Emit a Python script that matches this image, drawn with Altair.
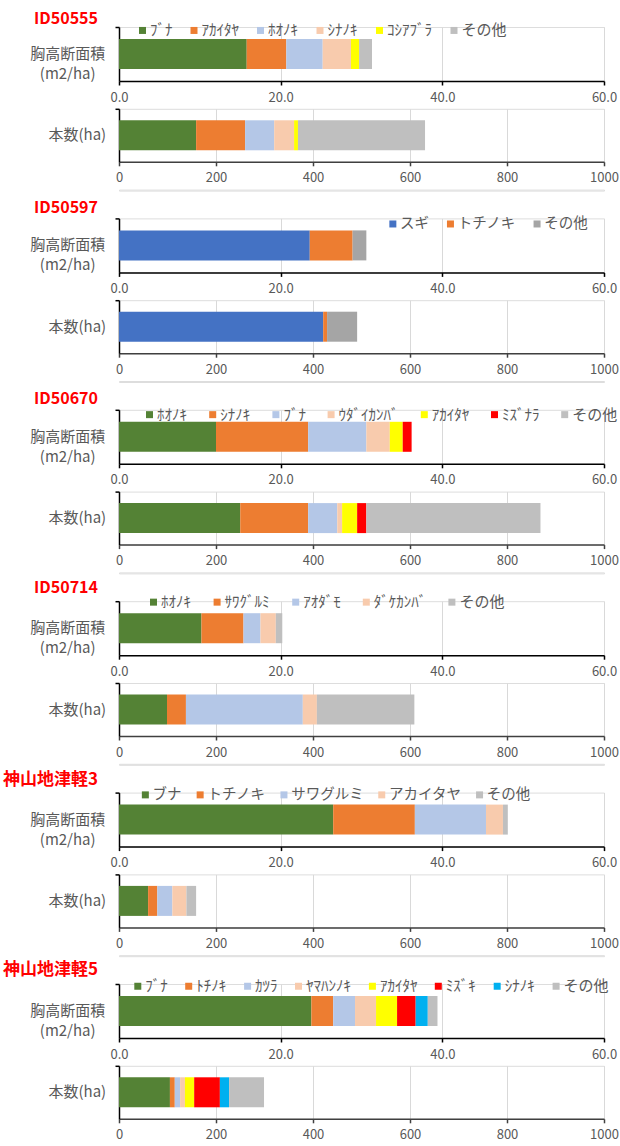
import altair as alt
import pandas as pd

FONT = "Noto Sans CJK JP"

titles = ["ID50555", "ID50597", "ID50670", "ID50714", "神山地津軽3", "神山地津軽5"]

species = [
    ["ﾌﾞﾅ", "ｱｶｲﾀﾔ", "ﾎｵﾉｷ", "ｼﾅﾉｷ", "ｺｼｱﾌﾞﾗ", "その他"],
    ["スギ", "トチノキ", "その他"],
    ["ﾎｵﾉｷ", "ｼﾅﾉｷ", "ﾌﾞﾅ", "ｳﾀﾞｲｶﾝﾊﾞ", "ｱｶｲﾀﾔ", "ﾐｽﾞﾅﾗ", "その他"],
    ["ﾎｵﾉｷ", "ｻﾜｸﾞﾙﾐ", "ｱｵﾀﾞﾓ", "ﾀﾞｹｶﾝﾊﾞ", "その他"],
    ["ブナ", "トチノキ", "サワグルミ", "アカイタヤ", "その他"],
    ["ﾌﾞﾅ", "ﾄﾁﾉｷ", "ｶﾂﾗ", "ﾔﾏﾊﾝﾉｷ", "ｱｶｲﾀﾔ", "ﾐｽﾞｷ", "ｼﾅﾉｷ", "その他"],
]

# 胸高断面積 (m2/ha)
basal_area = [
    [15.8, 4.9, 4.5, 3.5, 1.0, 1.6],
    [23.6, 5.3, 1.7],
    [12.0, 11.4, 7.2, 2.9, 1.6, 1.1, 0.0],
    [10.2, 5.2, 2.1, 1.9, 0.8],
    [26.5, 10.1, 8.8, 2.1, 0.6],
    [23.8, 2.7, 2.7, 2.6, 2.6, 2.3, 1.5, 1.2],
]

# 本数 (/ha)
stem_count = [
    [159, 101, 60, 41, 8, 262],
    [421, 8, 62],
    [250, 140, 60, 10, 31, 19, 359],
    [99, 39, 241, 29, 201],
    [60, 19, 31, 29, 20],
    [105, 10, 11, 10, 19, 53, 19, 72],
]

GREEN, ORANGE, LBLUE, PEACH = "#548235", "#ED7D31", "#B4C7E7", "#F8CBAD"
YELLOW, GRAY, RED, CYAN = "#FFFF00", "#BFBFBF", "#FF0000", "#00B0F0"
colors = [
    [GREEN, ORANGE, LBLUE, PEACH, YELLOW, GRAY],
    ["#4472C4", ORANGE, "#A5A5A5"],
    [GREEN, ORANGE, LBLUE, PEACH, YELLOW, RED, GRAY],
    [GREEN, ORANGE, LBLUE, PEACH, GRAY],
    [GREEN, ORANGE, LBLUE, PEACH, GRAY],
    [GREEN, ORANGE, LBLUE, PEACH, YELLOW, RED, CYAN, GRAY],
]

ba_ticks = [0, 20, 40, 60]
n_ticks = [0, 200, 400, 600, 800, 1000]

# layout styling per block
leg_x = [16.0, 266.6, 23.0, 27.0, 19.1, 11.3]
leg_y = [-4.3, -1.8, -2.9, -6.8, -5.1, -5.5]
leg_pad = [13.5, 13.6, 17.2, 17.6, 10.8, 12.9]
leg_font = [15, 14.5, 15, 15, 14.5, 15]
title_dy = [-8.5, -10.9, -10.9, -13.5, -12.4, -14.5]
title_size = [16, 16, 16, 16, 17, 17]

W = 485
H_BA = 54
H_N = 53
LABEL_GRAY = "#595959"


def panel(i, kind):
    sp = species[i]
    if kind == "ba":
        vals = basal_area[i]
        row = "胸高断面積|(m2/ha)"
    else:
        vals = stem_count[i]
        row = "本数(ha)"
    df = pd.DataFrame({"species": sp, "value": vals,
                       "order": list(range(len(sp))), "row": [row] * len(sp)})
    if kind == "ba":
        xaxis = alt.Axis(values=ba_ticks, format=".1f", title=None, grid=True,
                         gridColor="#D9D9D9", domainColor="#000000", domainWidth=1.5,
                         tickColor="#000000", tickSize=4, tickWidth=1.5,
                         labelFont=FONT, labelFontSize=13, labelColor=LABEL_GRAY,
                         labelPadding=6, labelFlush=False)
        xscale = alt.Scale(domain=[0, 60], nice=False)
        yaxis = alt.Axis(title=None, labelExpr="split(datum.label, '|')",
                         labelAlign="center", labelBaseline="middle",
                         labelPadding=47.8, labelFont=FONT, labelFontSize=15,
                         labelColor=LABEL_GRAY, labelLineHeight=20,
                         domainColor="#000000", domainWidth=1.5,
                         tickColor="#000000", tickSize=4, tickWidth=1.5,
                         bandPosition=0)
        legend = alt.Legend(orient="none", legendX=leg_x[i], legendY=leg_y[i],
                            direction="horizontal", columns=len(sp), title=None,
                            symbolType="square", symbolSize=49, symbolStrokeWidth=0,
                            labelFont=FONT, labelFontSize=leg_font[i],
                            labelColor=LABEL_GRAY, labelOffset=0,
                            columnPadding=leg_pad[i], padding=0)
        h = H_BA
    else:
        xaxis = alt.Axis(values=n_ticks, format="d", title=None, grid=True,
                         gridColor="#D9D9D9", domainColor="#404040", domainWidth=1.5,
                         tickColor="#404040", tickSize=4, tickWidth=1.5,
                         labelFont=FONT, labelFontSize=13, labelColor=LABEL_GRAY,
                         labelPadding=6, labelFlush=False)
        xscale = alt.Scale(domain=[0, 1000], nice=False)
        yaxis = alt.Axis(title=None, labelAlign="right", labelBaseline="middle",
                         labelPadding=9.3, labelFont=FONT, labelFontSize=15,
                         labelColor=LABEL_GRAY,
                         domainColor="#000000", domainWidth=1.5,
                         tickColor="#000000", tickSize=4, tickWidth=1.5,
                         bandPosition=0)
        legend = None
        h = H_N

    bars = alt.Chart(df).mark_bar(height=30).encode(
        x=alt.X("value:Q", stack="zero", scale=xscale, axis=xaxis),
        y=alt.Y("row:N", scale=alt.Scale(paddingInner=0, paddingOuter=0), axis=yaxis),
        color=alt.Color("species:N", scale=alt.Scale(domain=sp, range=colors[i]),
                        legend=legend),
        order=alt.Order("order:Q", sort="ascending"),
    )
    if kind == "ba":
        tdf = pd.DataFrame({"name": [titles[i]]})
        ttl = alt.Chart(tdf).mark_text(
            align="right", baseline="middle", font=FONT, fontSize=title_size[i],
            fontWeight="bold", color="#FF0000", dx=-21, dy=title_dy[i]
        ).encode(text="name:N", x=alt.value(0), y=alt.value(0))
        return alt.layer(bars, ttl).properties(width=W, height=h)
    return bars.properties(width=W, height=h)


def spacer():
    return alt.Chart(pd.DataFrame({"s": [0]})).mark_point(opacity=0).encode(
        x=alt.X("s:Q", axis=None), y=alt.Y("s:Q", axis=None)
    ).properties(width=W, height=1)


parts = []
for i in range(len(titles)):
    parts.append(panel(i, "ba"))
    parts.append(panel(i, "n"))
    if i < len(titles) - 1:
        parts.append(spacer())

chart = alt.vconcat(*parts, spacing=27.8, bounds="flush").resolve_scale(
    color="independent", x="independent", y="independent"
).properties(
    padding={"left": 2, "top": 10, "right": 0, "bottom": 0}
).configure_view(stroke=None).configure(background="white")

chart.save("out.html", embed_options={"renderer": "svg", "actions": False})
